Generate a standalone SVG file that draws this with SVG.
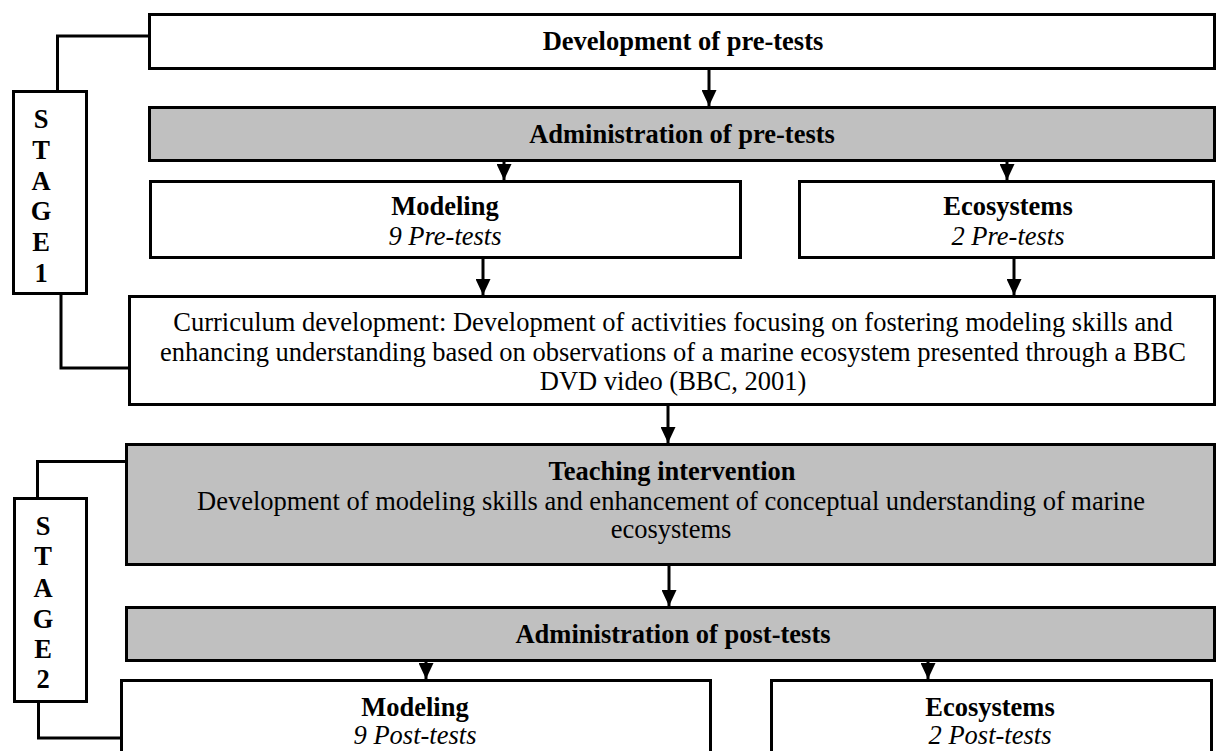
<svg xmlns="http://www.w3.org/2000/svg" width="1217" height="751" viewBox="0 0 1217 751">
<style>
  .box { fill: #ffffff; stroke: #000000; stroke-width: 3; }
  .grey { fill: #c0c0c0; stroke: #000000; stroke-width: 3; }
  .line { fill: none; stroke: #000000; stroke-width: 3; }
  text { font-family: "Liberation Serif", "Times New Roman", serif; font-size: 26.5px; fill: #000000; text-anchor: middle; }
  .b { font-weight: bold; }
  .i { font-style: italic; }
</style>
<defs>
  <marker id="ah" viewBox="0 0 16 15" refX="16" refY="7.5" markerWidth="16" markerHeight="15" markerUnits="userSpaceOnUse" orient="auto">
    <path d="M0,0 L16,7.5 L0,15 z" fill="#000000"/>
  </marker>
</defs>

<g id="stage1">
  <rect class="box" x="13.5" y="91.5" width="73" height="202"/>
  <text class="b" x="41" y="128">S</text>
  <text class="b" x="41" y="159">T</text>
  <text class="b" x="41" y="190">A</text>
  <text class="b" x="41" y="220">G</text>
  <text class="b" x="41" y="251">E</text>
  <text class="b" x="41" y="282">1</text>
</g>

<g id="stage2">
  <rect class="box" x="14.5" y="498.5" width="72" height="203"/>
  <text class="b" x="43" y="535">S</text>
  <text class="b" x="43" y="565">T</text>
  <text class="b" x="43" y="597">A</text>
  <text class="b" x="43" y="628">G</text>
  <text class="b" x="43" y="658">E</text>
  <text class="b" x="43" y="688">2</text>
</g>

<g id="dev-pretests">
  <rect class="box" x="149.5" y="14.5" width="1065" height="54"/>
  <text class="b" x="683" y="50">Development of pre-tests</text>
</g>

<g id="admin-pretests">
  <rect class="grey" x="149.5" y="107.5" width="1065" height="53"/>
  <text class="b" x="682" y="143">Administration of pre-tests</text>
</g>

<g id="modeling-pre">
  <rect class="box" x="150.5" y="181.5" width="590" height="76"/>
  <text class="b" x="445" y="215">Modeling</text>
  <text class="i" x="445" y="245">9 Pre-tests</text>
</g>

<g id="ecosystems-pre">
  <rect class="box" x="799.5" y="181.5" width="414" height="76"/>
  <text class="b" x="1008" y="215">Ecosystems</text>
  <text class="i" x="1008" y="245">2 Pre-tests</text>
</g>

<g id="curriculum">
  <rect class="box" x="129.5" y="296.5" width="1085" height="108"/>
  <text x="673" y="331">Curriculum development: Development of activities focusing on fostering modeling skills and</text>
  <text x="673" y="361">enhancing understanding based on observations of a marine ecosystem presented through a BBC</text>
  <text x="673" y="390">DVD video (BBC, 2001)</text>
</g>

<g id="teaching">
  <rect class="grey" x="126.5" y="444.5" width="1088" height="120"/>
  <text class="b" x="672" y="480">Teaching intervention</text>
  <text x="671" y="510">Development of modeling skills and enhancement of conceptual understanding of marine</text>
  <text x="671" y="538">ecosystems</text>
</g>

<g id="admin-posttests">
  <rect class="grey" x="126.5" y="607.5" width="1088" height="53"/>
  <text class="b" x="673" y="643">Administration of post-tests</text>
</g>

<g id="modeling-post">
  <rect class="box" x="121.5" y="680.5" width="589" height="90"/>
  <text class="b" x="415" y="716">Modeling</text>
  <text class="i" x="415" y="744">9 Post-tests</text>
</g>

<g id="ecosystems-post">
  <rect class="box" x="771.5" y="680.5" width="440" height="90"/>
  <text class="b" x="990" y="716">Ecosystems</text>
  <text class="i" x="990" y="744">2 Post-tests</text>
</g>

<g id="connectors">
  <path class="line" d="M148,36 H57.5 V91"/>
  <path class="line" d="M61,294 V368 H128"/>
  <path class="line" d="M125,461.5 H37.5 V498"/>
  <path class="line" d="M38.5,702 V738 H120"/>
  <line class="line" x1="709" y1="68" x2="709" y2="106" marker-end="url(#ah)"/>
  <line class="line" x1="504" y1="162" x2="504" y2="180" marker-end="url(#ah)"/>
  <line class="line" x1="1007" y1="162" x2="1007" y2="180" marker-end="url(#ah)"/>
  <line class="line" x1="483" y1="258" x2="483" y2="295" marker-end="url(#ah)"/>
  <line class="line" x1="1014" y1="258" x2="1014" y2="295" marker-end="url(#ah)"/>
  <line class="line" x1="668" y1="406" x2="668" y2="443" marker-end="url(#ah)"/>
  <line class="line" x1="669" y1="566" x2="669" y2="606" marker-end="url(#ah)"/>
  <line class="line" x1="426" y1="662" x2="426" y2="679" marker-end="url(#ah)"/>
  <line class="line" x1="928" y1="662" x2="928" y2="679" marker-end="url(#ah)"/>
</g>
</svg>
